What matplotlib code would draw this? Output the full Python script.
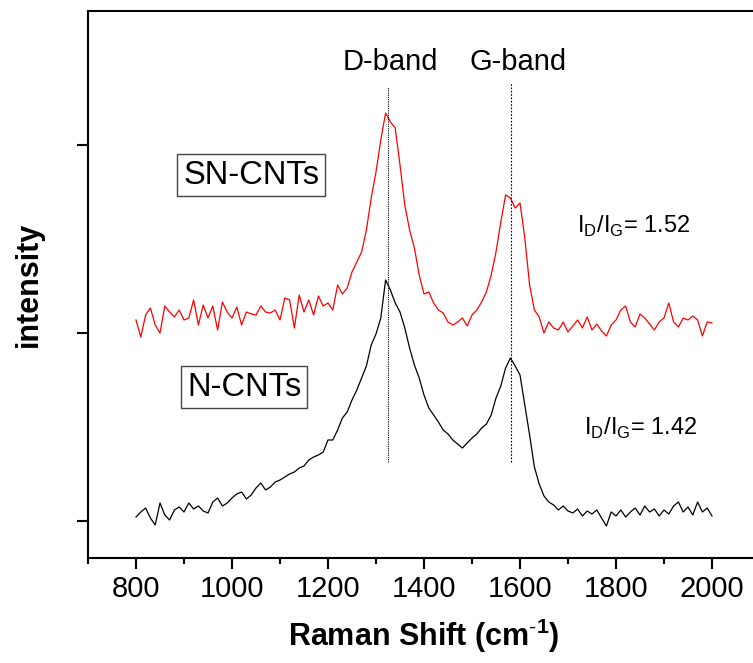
import numpy as np
import matplotlib
matplotlib.use("Agg")
import matplotlib.pyplot as plt

plt.rcParams['font.family'] = ['Liberation Sans', 'DejaVu Sans']
plt.rcParams['mathtext.fontset'] = 'custom'
plt.rcParams['mathtext.rm'] = 'Liberation Sans'
plt.rcParams['mathtext.bf'] = 'Liberation Sans:bold'

# Raman shift grid (cm^-1), 800..2000 step 10
raman_shift = np.arange(800, 2001, 10)

# N-CNTs (black), intensity in a.u.
n_cnts = [4, 9, 13, 3, -4, 18, 6, 1, 11, 14,
          9, 18, 12, 15, 10, 8, 19, 23, 15, 18,
          23, 27, 29, 22, 26, 33, 38, 31, 34, 39,
          41, 44, 47, 49, 53, 55, 61, 64, 66, 69,
          81, 81, 91, 103, 109, 121, 131, 143, 155, 176,
          187, 203, 241, 231, 218, 209, 193, 173, 156, 143,
          126, 113, 106, 99, 91, 87, 81, 77, 73, 78,
          83, 87, 93, 97, 106, 123, 135, 153, 163, 155,
          146, 116, 86, 54, 37, 25, 19, 16, 11, 15,
          10, 8, 12, 5, 10, 7, 11, 3, -5, 9,
          5, 11, 4, 9, 13, 6, 15, 9, 12, 5,
          11, 7, 15, 19, 9, 14, 6, 19, 9, 13,
          5]

# SN-CNTs (red), intensity in a.u.
sn_cnts = [201, 184, 206, 213, 196, 188, 215, 209, 204, 211,
           201, 203, 221, 196, 216, 203, 215, 191, 219, 209,
           203, 214, 196, 209, 207, 206, 215, 209, 208, 211,
           201, 223, 221, 193, 226, 209, 221, 206, 225, 215,
           218, 211, 236, 227, 233, 249, 259, 269, 291, 323,
           349, 381, 408, 399, 393, 356, 316, 291, 273, 246,
           227, 229, 218, 211, 208, 199, 196, 199, 203, 195,
           206, 211, 219, 229, 246, 269, 299, 326, 323, 313,
           318, 283, 236, 211, 204, 188, 199, 193, 191, 199,
           189, 195, 201, 193, 204, 191, 197, 190, 185, 196,
           201, 211, 215, 199, 194, 207, 203, 197, 191, 199,
           203, 218, 199, 194, 203, 201, 205, 201, 185, 199,
           198]

band_labels = ["D-band", "G-band"]
band_positions = [1325, 1581]
sample_labels = ["SN-CNTs", "N-CNTs"]
ratio_labels = ["1.52", "1.42"]
x_ticks = [800, 1000, 1200, 1400, 1600, 1800, 2000]
y_ticks = [0, 188, 376]

W, H = 753, 663
fig = plt.figure(figsize=(W / 100, H / 100), dpi=100)
ax = fig.add_axes([88 / W, (H - 558) / H, 672 / W, 547 / H])

ax.plot(raman_shift, n_cnts, color='black', lw=0.9)
ax.plot(raman_shift, sn_cnts, color='#ff0000', lw=0.9)

ax.set_xlim(700, 2100)
ax.set_ylim(-37, 510)

# band marker lines
ax.vlines(band_positions[0], 59, 434, colors='black', lw=0.8, linestyles=(0, (1, 1)))
ax.vlines(band_positions[1], 59, 438, colors='black', lw=0.8, linestyles=(0, (1.5, 1.5)))
ax.text(1329, 451, band_labels[0], ha='center', va='baseline', fontsize=21)
ax.text(1597, 451, band_labels[1], ha='center', va='baseline', fontsize=21)

box = dict(boxstyle='square,pad=0.18', fc='white', ec='#444444', lw=1.0)
ax.text(1040, 346, sample_labels[0], ha='center', va='center', fontsize=23.5, bbox=box)
ax.text(1026, 134, sample_labels[1], ha='center', va='center', fontsize=23.5, bbox=box)

ax.text(1719, 288, r'I$_\mathregular{D}$/I$_\mathregular{G}$= ' + ratio_labels[0],
        ha='left', va='baseline', fontsize=17)
ax.text(1733, 86, r'I$_\mathregular{D}$/I$_\mathregular{G}$= ' + ratio_labels[1],
        ha='left', va='baseline', fontsize=17)

ax.set_xticks(x_ticks)
ax.set_xticks(np.arange(700, 2100, 200), minor=True)
ax.set_yticks(y_ticks)
ax.set_yticklabels([])
ax.tick_params(axis='both', which='major', direction='out', length=8, width=1.5,
               labelsize=21, pad=4)
ax.tick_params(axis='x', which='minor', direction='out', length=4.5, width=1.5)
for s in ax.spines.values():
    s.set_linewidth(1.5)

ax.set_xlabel(r'Raman Shift (cm$^{\mathbf{\text{-}1}}$)', fontsize=22, fontweight='bold', labelpad=10)
ax.set_ylabel('intensity', fontsize=22, fontweight='bold', labelpad=20)

fig.savefig('out.png', dpi=100)
